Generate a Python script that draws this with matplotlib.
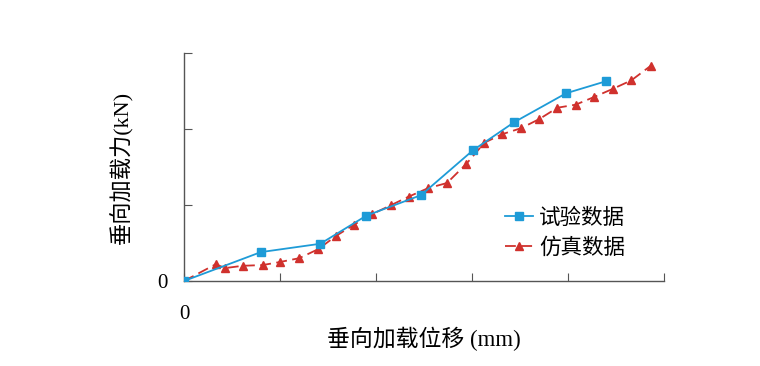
import matplotlib
matplotlib.use("Agg")
import matplotlib.pyplot as plt

plt.rcParams['font.family'] = ['Liberation Serif', 'Noto Sans CJK SC']

exp_x = [0, 0.80, 1.42, 1.90, 2.47, 3.01, 3.44, 3.98, 4.40]
exp_y = [0, 0.38, 0.49, 0.86, 1.13, 1.72, 2.09, 2.47, 2.63]

sim_x = [0, 0.33, 0.43, 0.61, 0.82, 1.00, 1.20, 1.40, 1.58, 1.77, 1.96, 2.16, 2.34,
         2.54, 2.74, 2.94, 3.13, 3.31, 3.51, 3.70, 3.89, 4.08, 4.27, 4.47, 4.66, 4.86]
sim_y = [0, 0.22, 0.17, 0.20, 0.21, 0.25, 0.30, 0.42, 0.59, 0.74, 0.88, 1.00, 1.11,
         1.22, 1.29, 1.54, 1.82, 1.93, 2.01, 2.13, 2.28, 2.32, 2.42, 2.53, 2.64, 2.83]

x_ticks = [0, 1, 2, 3, 4, 5]
y_ticks = [0, 1, 2, 3]
x_ticklabels = ['0', '', '', '', '', '']
y_ticklabels = ['0', '', '', '']

fig = plt.figure(figsize=(7.6, 3.66), dpi=100)
ax = fig.add_axes([184/760, 1-281/366, (664-184)/760, (281-53)/366])

ax.plot(exp_x, exp_y, color='#1E9BD7', lw=1.3, marker='s', ms=5.5, label='试验数据', zorder=3)
ax.plot(sim_x, sim_y, color='#D0312D', lw=1.3, ls=(0, (6, 3)), marker='^', ms=6,
        label='仿真数据', zorder=2)

ax.set_xlim(0, 5)
ax.set_ylim(0, 3)
ax.set_xticks(x_ticks)
ax.set_xticklabels(x_ticklabels)
ax.set_yticks(y_ticks)
ax.set_yticklabels(y_ticklabels)
for s in ['top', 'right']:
    ax.spines[s].set_visible(False)
for s in ['left', 'bottom']:
    ax.spines[s].set_color('#555555')
    ax.spines[s].set_linewidth(1.0)
ax.tick_params(direction='in', length=6, color='#555555', labelsize=15)
ax.tick_params(axis='x', pad=17)
ax.tick_params(axis='y', pad=12)

ax.set_xlabel('垂向加载位移 (mm)', fontsize=16.5, labelpad=2)
ax.set_ylabel('垂向加载力(kN)', fontsize=16, labelpad=17)

leg = ax.legend(loc='upper left', bbox_to_anchor=(0.668, 0.325), frameon=False,
                prop={'family': ['Noto Sans CJK SC'], 'size': 15.5},
                borderaxespad=0, borderpad=0,
                handlelength=1.3, handletextpad=0.3, labelspacing=0.35)

fig.savefig('out.png', dpi=100)
